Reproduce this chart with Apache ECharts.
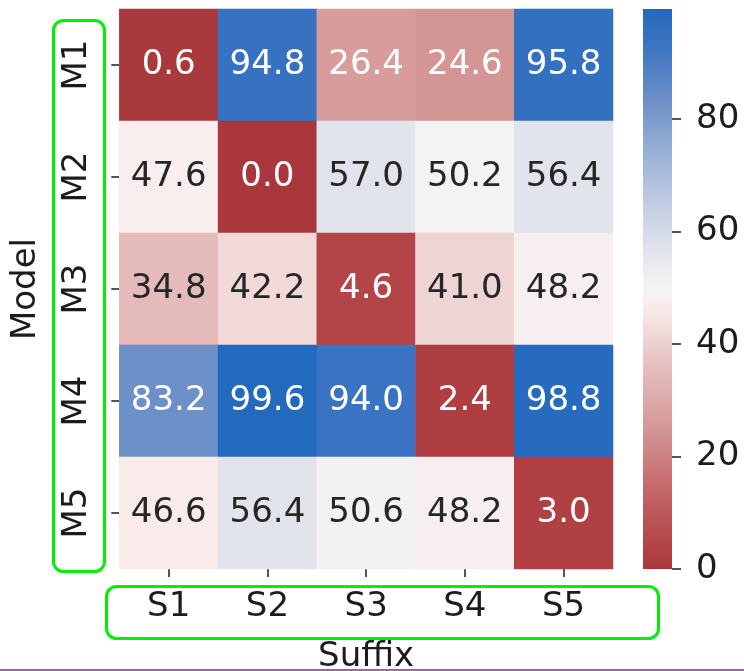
<!DOCTYPE html>
<html>
<head>
<meta charset="utf-8">
<script src="https://cdn.jsdelivr.net/npm/echarts@6/dist/echarts.min.js"></script>
<style>
html,body{margin:0;padding:0;background:#fff;}
#chart{width:744px;height:671px;}
</style>
</head>
<body>
<div id="chart"></div>
<script>
// ---- data ----
const suffixes = ['S1', 'S2', 'S3', 'S4', 'S5'];
const models = ['M1', 'M2', 'M3', 'M4', 'M5'];
const rowM1 = [0.6, 94.8, 26.4, 24.6, 95.8];
const rowM2 = [47.6, 0.0, 57.0, 50.2, 56.4];
const rowM3 = [34.8, 42.2, 4.6, 41.0, 48.2];
const rowM4 = [83.2, 99.6, 94.0, 2.4, 98.8];
const rowM5 = [46.6, 56.4, 50.6, 48.2, 3.0];
const colorbarTicks = [0, 20, 40, 60, 80];

const rows = [rowM1, rowM2, rowM3, rowM4, rowM5];
const allVals = rows.flat();
const vMin = Math.min(...allVals);
const vMax = Math.max(...allVals);

// ---- colormap (vlag reversed: red -> white -> blue) ----
const cmapStops = [
  [0.00, '#a9373b'],[0.05, '#b4464a'],[0.15, '#c56a6c'],[0.25, '#d59696'],[0.35, '#e4baba'],
  [0.42, '#f0d8d7'],[0.47, '#f8eceb'],[0.50, '#f5f3f3'],[0.56, '#e5e6ed'],[0.65, '#c3cde3'],
  [0.75, '#97afd6'],[0.84, '#6a8ec6'],[0.93, '#3f76c2'],[1.00, '#2369bd']
];
function hexToRgb(h){ return [parseInt(h.substr(1,2),16), parseInt(h.substr(3,2),16), parseInt(h.substr(5,2),16)]; }
function cmap(t){
  t = Math.max(0, Math.min(1, t));
  for (let i = 1; i < cmapStops.length; i++) {
    if (t <= cmapStops[i][0]) {
      const [t0, c0] = cmapStops[i-1], [t1, c1] = cmapStops[i];
      const f = (t - t0) / (t1 - t0);
      const a = hexToRgb(c0), b = hexToRgb(c1);
      return [0,1,2].map(k => Math.round(a[k] + (b[k]-a[k]) * f));
    }
  }
  return hexToRgb(cmapStops[cmapStops.length-1][1]);
}
function rgbStr(c){ return 'rgb(' + c.join(',') + ')'; }
function lum(c){
  const lin = c.map(v => { v /= 255; return v <= 0.03928 ? v/12.92 : Math.pow((v+0.055)/1.055, 2.4); });
  return 0.2126*lin[0] + 0.7152*lin[1] + 0.0722*lin[2];
}
const evenColors = [];
for (let i = 0; i <= 100; i++) evenColors.push(rgbStr(cmap(i/100)));

const heatData = [];
rows.forEach((row, yi) => row.forEach((v, xi) => {
  const c = cmap((v - vMin) / (vMax - vMin));
  heatData.push({ value: [xi, yi, v], label: { color: lum(c) > 0.408 ? '#262626' : '#ffffff' } });
}));

const FONT = 'DejaVu Sans';
const FS = 34;
const TXT = '#1c1c1c';

const chart = echarts.init(document.getElementById('chart'), null, { renderer: 'canvas' });
chart.setOption({
  animation: false,
  backgroundColor: '#ffffff',
  textStyle: { fontFamily: FONT },
  grid: [
    { left: 119.3, top: 9, width: 493.7, height: 560, outerBoundsMode: 'none' },
    { left: 643, top: 9, width: 29, height: 560, outerBoundsMode: 'none' }
  ],
  xAxis: [
    {
      type: 'category', gridIndex: 0, data: suffixes,
      axisLine: { show: false },
      axisTick: { show: true, alignWithLabel: true, length: 8, lineStyle: { color: TXT, width: 1.5 } },
      axisLabel: { fontSize: FS, color: TXT, fontFamily: FONT, margin: 21 },
      splitLine: { show: false }, splitArea: { show: false },
      name: 'Suffix', nameLocation: 'middle', nameGap: 71,
      nameTextStyle: { fontSize: FS, color: TXT, fontFamily: FONT }
    },
    { type: 'category', gridIndex: 1, data: ['cb'], show: false }
  ],
  yAxis: [
    {
      type: 'category', gridIndex: 0, data: models, inverse: true,
      axisLine: { show: false },
      axisTick: { show: true, alignWithLabel: true, length: 8, lineStyle: { color: TXT, width: 1.5 } },
      axisLabel: { fontSize: FS, color: TXT, fontFamily: FONT, rotate: 90, margin: 25 },
      splitLine: { show: false }, splitArea: { show: false },
      name: 'Model', nameLocation: 'middle', nameGap: 76, nameRotate: 90,
      nameTextStyle: { fontSize: FS, color: TXT, fontFamily: FONT }
    },
    {
      type: 'value', gridIndex: 1, position: 'right', min: 0, max: vMax, interval: 20,
      axisLine: { show: false },
      axisTick: { show: true, length: 9, lineStyle: { color: TXT, width: 1.5 } },
      axisLabel: {
        fontSize: FS, color: TXT, fontFamily: FONT, margin: 24,
        showMaxLabel: false,
        formatter: v => colorbarTicks.includes(v) ? String(v) : ''
      },
      splitLine: { show: false }
    }
  ],
  visualMap: {
    show: false, type: 'continuous', seriesIndex: 0, dimension: 2,
    min: vMin, max: vMax, inRange: { color: evenColors }
  },
  series: [
    {
      type: 'heatmap', xAxisIndex: 0, yAxisIndex: 0, data: heatData,
      label: { show: true, fontSize: FS, fontFamily: FONT, formatter: p => p.value[2].toFixed(1) },
      itemStyle: { borderWidth: 0 },
      emphasis: { disabled: true }
    },
    {
      type: 'bar', xAxisIndex: 1, yAxisIndex: 1, data: [vMax], barWidth: '100%',
      itemStyle: {
        color: new echarts.graphic.LinearGradient(0, 1, 0, 0,
          cmapStops.map(s => ({ offset: s[0], color: s[1] })))
      },
      emphasis: { disabled: true }, silent: true
    }
  ],
  graphic: [
    { type: 'rect', shape: { x: 53.5, y: 20.5, width: 51, height: 551, r: 10 },
      style: { fill: null, stroke: '#00f000', lineWidth: 3 }, z: 100 },
    { type: 'rect', shape: { x: 106.5, y: 586.5, width: 552, height: 52, r: 10 },
      style: { fill: null, stroke: '#00f000', lineWidth: 3 }, z: 100 },
    { type: 'line', shape: { x1: 0, y1: 670, x2: 744, y2: 670 },
      style: { stroke: '#9a6a95', lineWidth: 2 }, z: 100 }
  ]
});
</script>
</body>
</html>
